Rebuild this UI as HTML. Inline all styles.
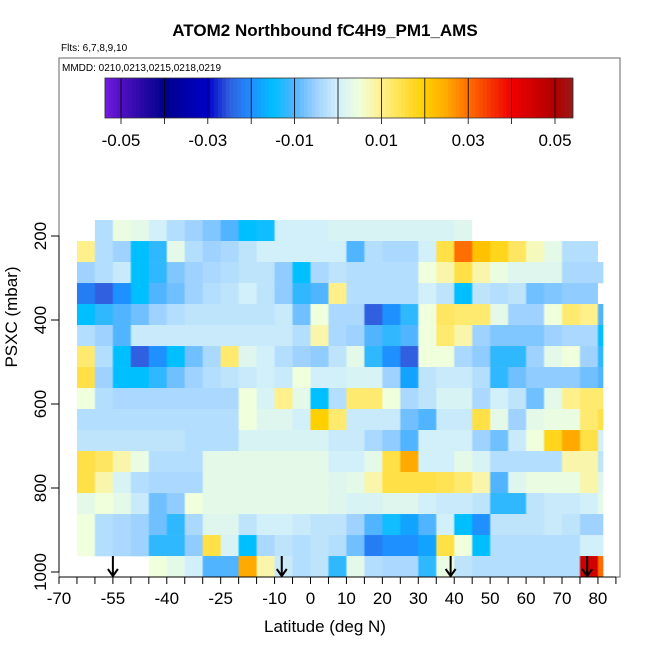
<!DOCTYPE html>
<html><head><meta charset="utf-8"><style>
body{margin:0;background:#fff}
svg{display:block;font-family:"Liberation Sans",sans-serif}
</style></head><body>
<svg id="chart" width="650" height="650" viewBox="0 0 650 650">
<defs id="defs"></defs>
<text x="325" y="36" text-anchor="middle" font-size="17" font-weight="bold">ATOM2 Northbound fC4H9_PM1_AMS</text>
<text x="61" y="51" font-size="10">Flts: 6,7,8,9,10</text>
<g id="heat"></g>
<g id="cbar"></g>
<rect x="59" y="58" width="561" height="519" fill="none" stroke="#666" stroke-width="1"/>
<text x="62" y="71" font-size="10">MMDD: 0210,0213,0215,0218,0219</text>
<g id="axes"></g>
<text x="325" y="632" text-anchor="middle" font-size="17">Latitude (deg N)</text>
<text transform="translate(17,317) rotate(-90)" text-anchor="middle" font-size="17">PSXC (mbar)</text>
</svg>
<script>
// ---- data ----
const latBins = [-65,-60,-55,-50,-45,-40,-35,-30,-25,-20,-15,-10,-5,0,5,10,15,20,25,30,35,40,45,50,55,60,65,70,75,80];
const pressureBins = [187,237,287,337,387,437,487,537,587,637,687,737,787,837,887,937,987];
// values in units of 0.001 (null = no data)
const row0  = [null,-3,4,3,0,-3,-5,-7,-10,-15,-14,0,0,0,1,1,1,1,1,1,1,2,null,null,null,null,null,null,null,null];
const row1  = [10,-3,-5,-15,-12,3,-3,-5,-4,-2,0,0,0,0,0,-10,-3,-4,-4,0,15,30,22,18,13,7,3,-3,-3,null];
const row2  = [-5,-3,-1,-15,-12,-7,-5,-4,-3,-2,-2,-6,-15,-4,-2,-3,-3,-3,-3,5,8,15,8,4,2,2,2,-4,-4,-4];
const row3  = [-22,-25,-20,-15,-10,-8,-5,-3,-2,0,-2,-6,-12,-10,10,-3,-3,-3,-3,0,-2,-15,-2,-3,-2,-8,-7,-6,-6,null];
const row4  = [-15,-12,-10,-8,-5,-3,-2,-2,-2,-2,-2,-1,-8,5,-4,-4,-25,-20,-12,5,13,12,12,3,-5,-5,5,12,10,-10];
const row5  = [-3,-5,-10,-1,-1,-1,-1,-1,-1,-1,-1,-1,-3,8,-4,-5,-10,-12,-10,5,12,8,-5,-7,-7,-7,-5,-4,-4,-15];
const row6  = [12,-3,-15,-25,-20,-15,-8,-4,12,2,0,-3,-5,-6,-2,3,-12,-20,-25,5,5,-4,-6,-12,-12,-5,3,5,-5,-12];
const row7  = [15,-5,-15,-15,-12,-8,-5,-3,-2,-1,0,-1,5,0,0,1,1,-5,-18,-2,-1,-1,-3,-12,-8,-6,-6,-6,-8,-10];
const row8  = [5,-3,-4,-4,-4,-4,-4,-4,-4,5,1,10,3,-15,-3,12,12,5,-4,-2,1,1,-4,0,-2,-8,3,10,12,12];
const row9  = [-3,-3,-3,-3,-3,-3,-3,-3,-3,5,2,2,0,20,12,-1,-1,-1,-8,-10,-1,-1,15,3,-5,3,4,4,12,15];
const row10 = [-2,-2,-2,-2,-2,-2,-3,-3,-3,1,1,1,1,1,-1,-1,-4,-6,-10,0,0,0,-5,-8,-1,5,18,25,15,0];
const row11 = [15,13,8,4,-3,-3,-3,3,3,3,3,3,3,3,0,0,3,15,25,0,0,3,1,-3,-3,-3,-3,8,8,-2];
const row12 = [15,8,1,-3,-4,-4,-4,3,3,3,3,3,3,3,2,3,8,15,15,15,14,12,8,-10,2,4,4,4,8,2];
const row13 = [3,5,3,-1,-8,-6,5,3,3,3,3,3,3,3,2,1,1,2,2,0,-1,-1,-2,-12,-12,-2,-1,-1,0,3];
const row14 = [5,-3,-4,-5,-8,-12,-4,2,2,-2,0,0,-1,-2,-2,-5,-10,-14,-18,-10,0,-15,-20,-2,-2,-2,-1,-2,-5,-5];
const row15 = [5,-3,-4,-5,-12,-12,-6,15,1,-15,-4,-2,-3,-2,-3,-8,-22,-20,-20,-18,15,5,-15,-3,-3,-3,-3,-3,0,0];
const row16 = [null,null,null,null,5,3,0,-10,-10,25,8,-1,-3,-2,-12,3,-3,-4,-4,-12,4,-2,-3,-3,-3,-3,-3,-3,45,30];
const grid = [row0,row1,row2,row3,row4,row5,row6,row7,row8,row9,row10,row11,row12,row13,row14,row15,row16];
const xTicks = [-70,-65,-60,-55,-50,-45,-40,-35,-30,-25,-20,-15,-10,-5,0,5,10,15,20,25,30,35,40,45,50,55,60,65,70,75,80,85];
const xLabels = [-70,-55,-40,-25,-10,0,10,20,30,40,50,60,70,80];
const yTicks = [200,400,600,800,1000];
const cbTicks = [-0.05,-0.03,-0.01,0.01,0.03,0.05];
const cbLines = [-0.05,-0.04,-0.03,-0.02,-0.01,0,0.01,0.02,0.03,0.04,0.05];
const arrowLats = [-55,-8,39,77];

// ---- scales ----
const NS="http://www.w3.org/2000/svg";
const X = lat => 310.5 + lat*3.593;
const Y = p => 236 + (p-200)*0.42;
const CB = v => 338 + v*4340;
const latMax = 81.5;
const stops = [[-0.055,[128,32,240]],[-0.05,[80,16,192]],[-0.04,[0,0,140]],[-0.03,[0,0,200]],[-0.025,[48,96,224]],[-0.02,[30,144,255]],[-0.015,[0,191,255]],[-0.01,[80,180,255]],[-0.005,[160,210,255]],[0,[210,240,250]],[0.005,[240,255,220]],[0.01,[255,240,140]],[0.02,[255,208,0]],[0.025,[255,170,0]],[0.03,[255,110,0]],[0.04,[240,0,0]],[0.05,[176,0,0]],[0.055,[150,30,30]]];
function col(v){
  if(v<=stops[0][0]) return `rgb(${stops[0][1]})`;
  for(let i=1;i<stops.length;i++){
    if(v<=stops[i][0]){const[a,ca]=stops[i-1],[b,cb]=stops[i];const t=(v-a)/(b-a);
      return `rgb(${ca.map((c,k)=>Math.round(c+(cb[k]-c)*t)).join(',')})`;}
  }
  return `rgb(${stops[stops.length-1][1]})`;
}
function mk(tag,attrs,parent){const e=document.createElementNS(NS,tag);for(const k in attrs)e.setAttribute(k,attrs[k]);parent.appendChild(e);return e;}

// ---- heatmap (contiguous runs drawn with gradients through cell centres) ----
const heat=document.getElementById('heat');
const defs=document.getElementById('defs');
let gid=0;
grid.forEach((row,r)=>{
  const p=pressureBins[r];
  let c=0;
  while(c<row.length){
    if(row[c]===null){c++;continue;}
    let s=c; while(c<row.length && row[c]!==null) c++;
    const e0=c-1;
    const x0=X(latBins[s]), x1=X(Math.min(latBins[e0]+5,latMax));
    const id='g'+(gid++);
    const lg=mk('linearGradient',{id:id,gradientUnits:'userSpaceOnUse',x1:x0,x2:x1,y1:0,y2:0},defs);
    for(let k=s;k<=e0;k++){
      const l0=latBins[k], l1=Math.min(l0+5,latMax);
      const a=(X(l0)+1-x0)/(x1-x0), b=(X(l1)-1-x0)/(x1-x0);
      mk('stop',{offset:Math.max(0,a),'stop-color':col(row[k]/1000)},lg);
      mk('stop',{offset:Math.min(1,b),'stop-color':col(row[k]/1000)},lg);
    }
    const rc=mk('rect',{x:x0,y:Y(p-25),width:x1-x0,height:Y(p+25)-Y(p-25)+0.3,fill:`url(#${id})`},heat);
    
    
  }
});
// flight arrows
arrowLats.forEach(l=>{
  const g=mk('g',{stroke:'#000','stroke-width':2,fill:'none'},heat);
  
  
  mk('line',{x1:X(l),y1:556,x2:X(l),y2:576},g);
  mk('polyline',{points:`${X(l)-5},${569} ${X(l)},${576} ${X(l)+5},${569}`},g);
});

// ---- colorbar ----
const cb=document.getElementById('cbar');
const N=120;
for(let i=0;i<N;i++){
  const v=-0.0537+(0.1078)*i/N, v2=-0.0537+0.1078*(i+1)/N;
  const e=mk('rect',{x:CB(v),y:78,width:CB(v2)-CB(v)+0.6,height:40,fill:col((v+v2)/2)},cb);
  
  
}
cbLines.forEach(v=>{
  const e=mk('line',{x1:CB(v),x2:CB(v),y1:78,y2:124,stroke:'#000','stroke-width':0.8},cb);
  
  
});
mk('rect',{x:CB(-0.0537),y:78,width:CB(0.0541)-CB(-0.0537),height:40,fill:'none',stroke:'#333','stroke-width':0.8},cb);
cbTicks.forEach(v=>{
  const t=mk('text',{x:CB(v),y:146,'text-anchor':'middle','font-size':17},cb);
  t.textContent=v.toFixed(2);
  
  
});

// ---- axes ----
const ax=document.getElementById('axes');
mk('line',{x1:X(-70),x2:X(85),y1:577,y2:577,stroke:'#000'},ax);
xTicks.forEach(l=>{
  const e=mk('line',{x1:X(l),x2:X(l),y1:577,y2:584,stroke:'#000'},ax);
  
  
});
xLabels.forEach(l=>{
  const t=mk('text',{x:X(l),y:604,'text-anchor':'middle','font-size':17},ax);
  t.textContent=l;
  
  
});
mk('line',{x1:59,x2:59,y1:Y(200),y2:Y(1000),stroke:'#000'},ax);
yTicks.forEach(p=>{
  const e=mk('line',{x1:51,x2:59,y1:Y(p),y2:Y(p),stroke:'#000'},ax);
  
  
  const t=mk('text',{transform:`translate(46,${Y(p)}) rotate(-90)`,'text-anchor':'middle','font-size':17},ax);
  t.textContent=p;
  
  
});
</script>
</body></html>
